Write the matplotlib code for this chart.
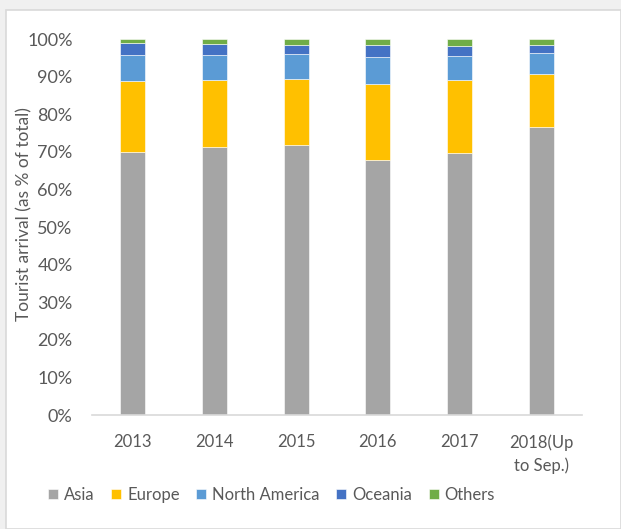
import matplotlib
matplotlib.use("Agg")
import matplotlib.pyplot as plt
from matplotlib.patches import Rectangle
from matplotlib.ticker import PercentFormatter
import numpy as np

plt.rcParams['font.family'] = ['Lato', 'DejaVu Sans']

categories = ["2013", "2014", "2015", "2016", "2017", "2018(Up\nto Sep.)"]
series_names = ["Asia", "Europe", "North America", "Oceania", "Others"]
asia = [69.9, 71.2, 71.8, 67.7, 69.7, 76.6]
europe = [18.9, 17.9, 17.5, 20.3, 19.4, 14.2]
north_america = [6.9, 6.6, 6.6, 7.2, 6.4, 5.5]
oceania = [3.15, 3.0, 2.6, 3.1, 2.7, 2.2]
others = [1.15, 1.3, 1.5, 1.7, 1.8, 1.5]
colors = ["#A5A5A5", "#FFC000", "#5B9BD5", "#4472C4", "#70AD47"]

W, H = 621, 529
fig = plt.figure(figsize=(W / 100, H / 100), dpi=100)
fig.patch.set_facecolor("#F0F0F0")
fig.patches.append(Rectangle((6 / W, 0), 1 - 6 / W, 1 - 10 / H, transform=fig.transFigure,
                             facecolor="white", edgecolor="#D9D9D9", linewidth=1.2, zorder=-10))

AX_L, AX_R, AX_B, AX_T = 92, 582, 415, 39
ax = fig.add_axes([AX_L / W, (H - AX_B) / H, (AX_R - AX_L) / W, (AX_B - AX_T) / H])
ax.set_facecolor("none")
ax.set_zorder(5)

x = np.arange(len(categories))
data = [asia, europe, north_america, oceania, others]
bottom = np.zeros(len(categories))
handles = []
for name, vals, c in zip(series_names, data, colors):
    v = np.array(vals) / 100.0
    b = ax.bar(x, v, 0.31, bottom=bottom, color=c, edgecolor="white", linewidth=0.4, label=name)
    handles.append(b)
    bottom += v

ax.set_xlim(-0.5, len(categories) - 0.5)
ax.set_ylim(0, 1.0)
ax.set_yticks(np.arange(0, 1.01, 0.1))
ax.yaxis.set_major_formatter(PercentFormatter(1.0, decimals=0))
ax.set_xticks(x)
ax.set_xticklabels(categories, linespacing=1.5)
ax.tick_params(axis="both", length=0, colors="#595959")
ax.tick_params(axis="y", pad=14, labelsize=13)
ax.tick_params(axis="x", pad=14, labelsize=12)
for s in ["top", "right", "left"]:
    ax.spines[s].set_visible(False)
ax.spines["bottom"].set_color("#D9D9D9")
ax.spines["bottom"].set_linewidth(1.2)

ax.set_ylabel("Tourist arrival (as % of total)", fontsize=12.5, color="#595959")
ax.yaxis.set_label_coords(-(AX_L - 32) / (AX_R - AX_L), (AX_B - 214) / (AX_B - AX_T))

fig.legend(handles=handles, labels=series_names, loc="center", ncol=5,
           bbox_to_anchor=(271.5 / W, 1 - 495 / H), frameon=False, fontsize=12,
           handlelength=0.6, handleheight=0.6, handletextpad=0.35, columnspacing=1.0,
           labelcolor="#595959")

fig.savefig("out.png", dpi=100, facecolor=fig.get_facecolor())
